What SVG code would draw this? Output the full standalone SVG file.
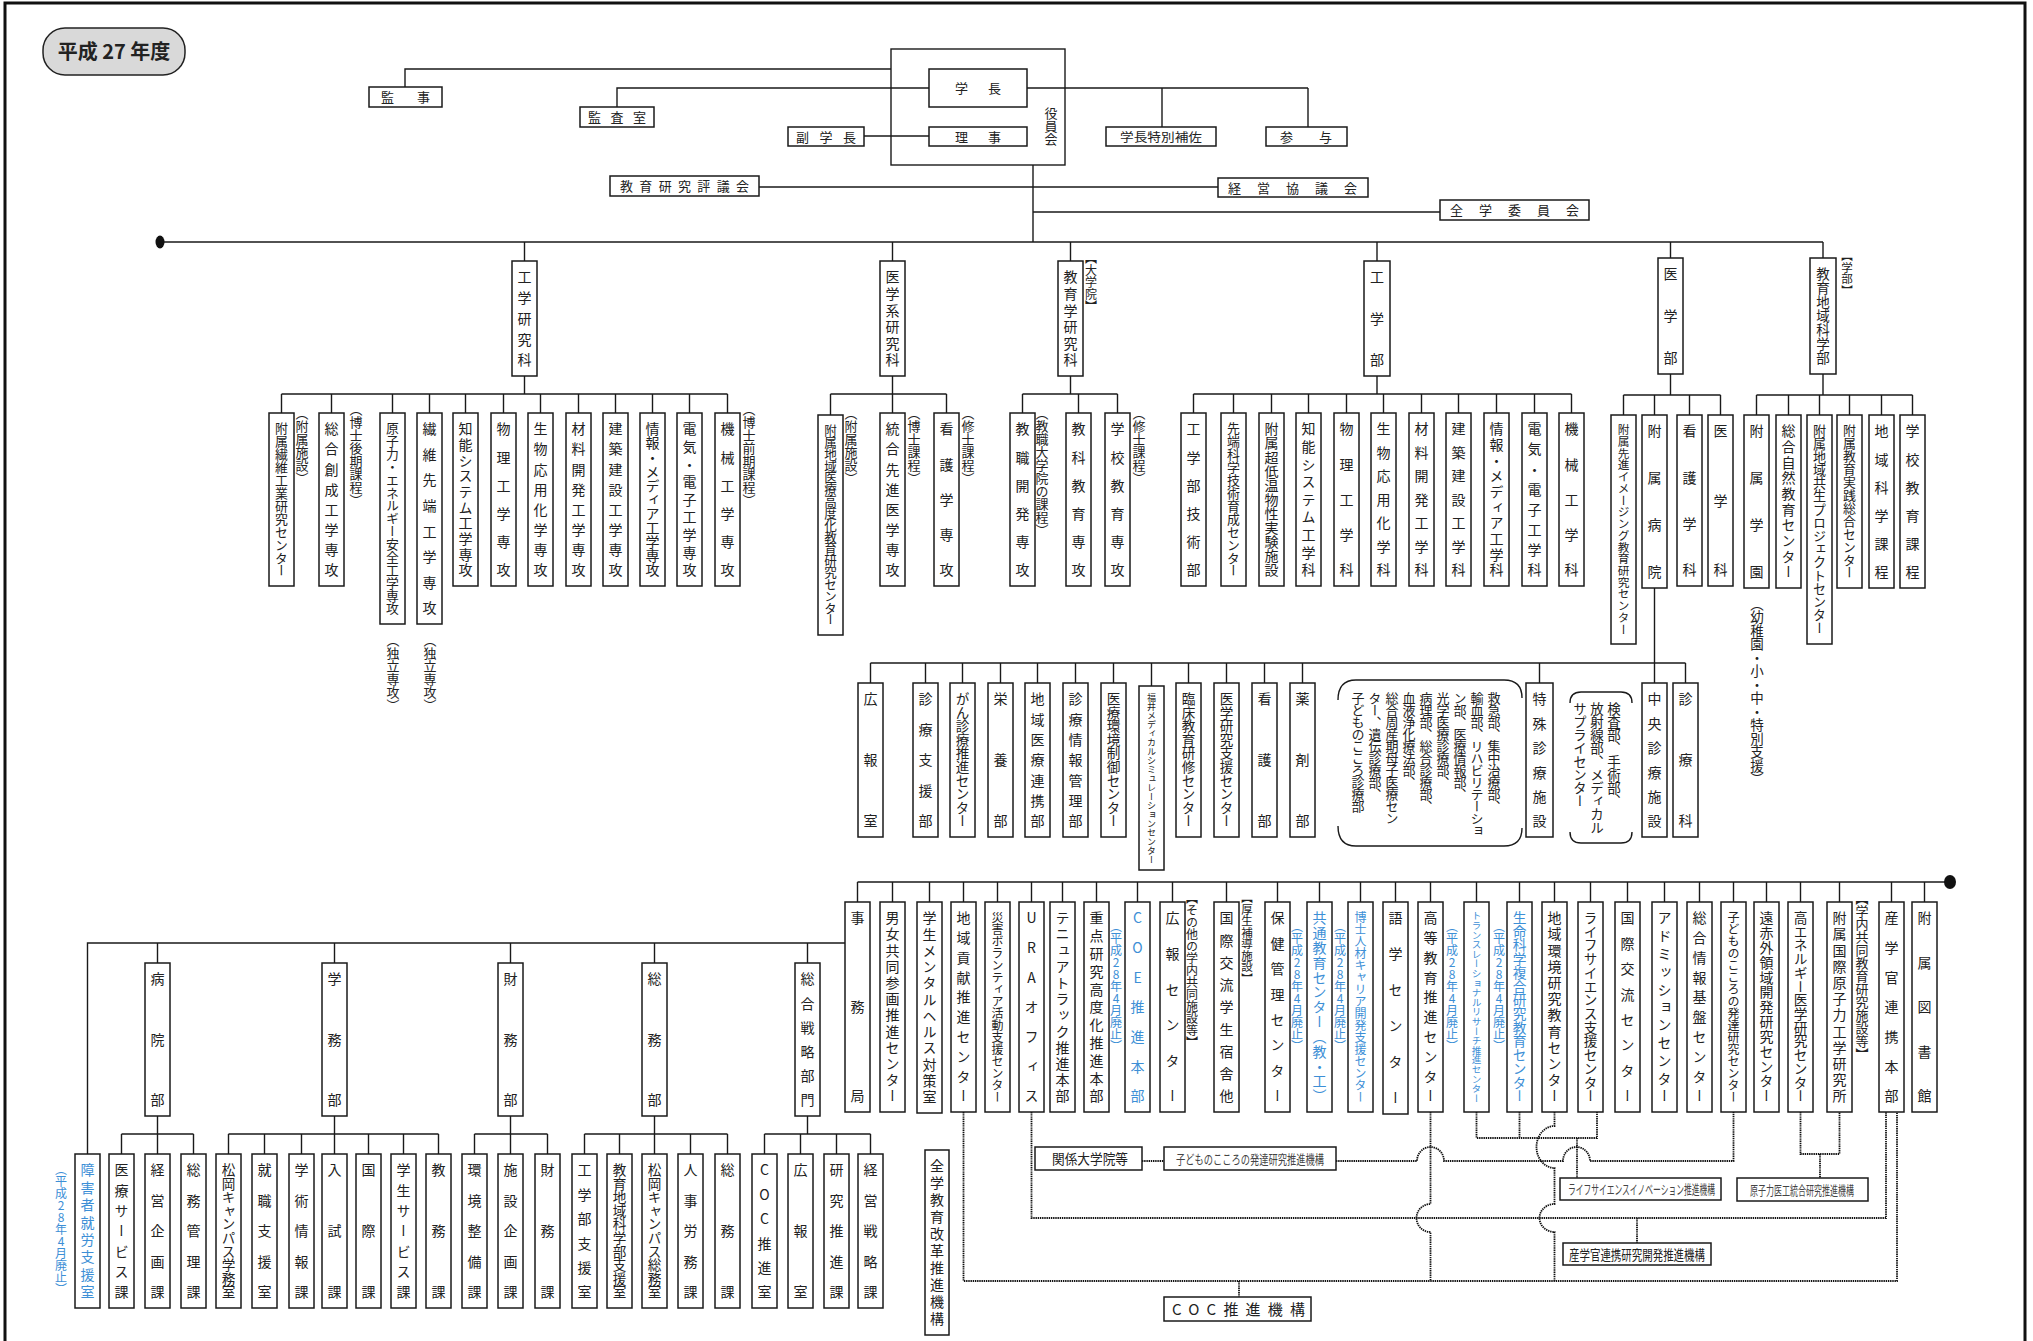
<svg xmlns="http://www.w3.org/2000/svg" width="2033" height="1341" viewBox="0 0 2033 1341">
<style>
.b{fill:#fff;stroke:#1a1a1a;stroke-width:1.5}
.c{fill:none;stroke:#1a1a1a;stroke-width:1.4}
.d{fill:none;stroke:#111;stroke-width:1.8;stroke-dasharray:1.4 0.8}
.k{fill:none;stroke:#1a1a1a;stroke-width:1.4}
text{font-family:"Noto Sans CJK JP","Noto Sans CJK SC",sans-serif;fill:#222}
.v{writing-mode:vertical-rl;font-size:14px}
.u{text-orientation:upright}
.bl{fill:#3d8fd6}
.h{font-size:13px}
.g{fill:#444}
.a{writing-mode:vertical-rl;font-size:13px}
.t{writing-mode:vertical-rl;font-size:13px;letter-spacing:-1px}
</style>
<rect x="0" y="0" width="2033" height="1341" fill="#fff"/>
<rect x="5" y="3" width="2020" height="1400" fill="none" stroke="#111" stroke-width="3"/>

<g id="connectors">
<path class="c" d="M405,87V69H891M617,107V88H929M864,136H929M1027,88H1308M1162,88V127M1308,88V127M1033,165V242M759,187H1218M1033,212H1440M160,242H1823"/>
<ellipse cx="160" cy="242" rx="4.5" ry="6.5" fill="#111"/>
<path class="c" d="M524.5,242V261M892.5,242V261M1070.5,242V261M1377,242V261M1670.5,242V258M1823,242V258"/>
<path class="c" d="M524.5,376V394M281.5,394H727.5M281.5,394V413M331.5,394V413M392.5,394V413M429.5,394V413M465.5,394V413M503.5,394V413M540.5,394V413M578.5,394V413M615.5,394V413M652.5,394V413M689.5,394V413M727.5,394V413"/>
<path class="c" d="M892.5,376V394M830.5,394H946.5M830.5,394V415M892.5,394V413M946.5,394V413"/>
<path class="c" d="M1070.5,376V394M1022.5,394H1117.5M1022.5,394V413M1078.5,394V413M1117.5,394V413"/>
<path class="c" d="M1377,376V394M1193.5,394H1571.5M1193.5,394V413M1233.5,394V413M1271.5,394V413M1308.5,394V413M1346.5,394V413M1383.5,394V413M1421.5,394V413M1458.5,394V413M1496.5,394V413M1534.5,394V413M1571.5,394V413"/>
<path class="c" d="M1670.5,374V395M1623.5,395H1720.5M1623.5,395V415M1654.5,395V415M1689.5,395V415M1720.5,395V415"/>
<path class="c" d="M1823,374V395M1756.5,395H1912.5M1756.5,395V415M1788.5,395V415M1819.5,395V415M1849.5,395V415M1881.5,395V415M1912.5,395V415"/>
<path class="c" d="M1654.5,588V663M870.5,663H1685.5M870.5,663V683M925.5,663V683M962.5,663V683M1000.5,663V683M1037.5,663V683M1075.5,663V683M1113.5,663V683M1151.5,663V686M1188.5,663V683M1226.5,663V683M1264.5,663V683M1302.5,663V683M1539.5,663V683M1654.5,663V683M1685.5,663V683"/>
<path class="c" d="M857.5,882H1950M857.5,882V902M892.5,882V902M929.5,882V902M963.5,882V902M997.5,882V902M1031.5,882V902M1062.5,882V902M1096.5,882V902M1137.5,882V902M1172.5,882V902M1226.5,882V902M1277.5,882V902M1319.5,882V902M1360.5,882V902M1395.5,882V902M1430.5,882V902M1476.5,882V902M1519.5,882V902M1554.5,882V902M1590.5,882V902M1627.5,882V902M1664.5,882V902M1699.5,882V902M1733.5,882V902M1766.5,882V902M1800.5,882V902M1839.5,882V902M1891.5,882V902M1924.5,882V902"/>
<ellipse cx="1950" cy="882" rx="6" ry="7" fill="#111"/>
<path class="c" d="M87.5,1154V943H845M157.5,943V963M334.5,943V963M510.5,943V963M654.5,943V963M807.5,943V963"/>
<path class="c" d="M157.5,1116V1134M121.5,1134H193.5M121.5,1134V1154M157.5,1134V1154M193.5,1134V1154"/>
<path class="c" d="M334.5,1116V1134M228.5,1134H438.5M228.5,1134V1154M264.5,1134V1154M301.5,1134V1154M334.5,1134V1154M368.5,1134V1154M403.5,1134V1154M438.5,1134V1154"/>
<path class="c" d="M510.5,1116V1134M474.5,1134H547.5M474.5,1134V1154M510.5,1134V1154M547.5,1134V1154"/>
<path class="c" d="M654.5,1116V1134M584.5,1134H727.5M584.5,1134V1154M619.5,1134V1154M654.5,1134V1154M690.5,1134V1154M727.5,1134V1154"/>
<path class="c" d="M807.5,1116V1134M764.5,1134H870.5M764.5,1134V1154M800.5,1134V1154M836.5,1134V1154M870.5,1134V1154"/>
<path class="d" d="M963.5,1112V1281H1897V1112M1239,1281V1297"/>
<path class="d" d="M1031.5,1112V1218H1886V1112M1637,1218V1243"/>
<path class="d" d="M1142,1161H1164M1336,1161H1417A13.5,14 0 0 1 1444,1161H1563A13.5,14 0 0 1 1590,1161H1733.5V1112"/>
<path class="d" d="M1430.5,1112V1204A14,14 0 0 0 1430.5,1232V1281"/>
<path class="d" d="M1554.5,1112V1126A18,21 0 0 0 1554.5,1168V1204A15,14 0 0 0 1554.5,1232V1281"/>
<path class="d" d="M1476.5,1112V1138H1597V1112M1519.5,1112V1138M1577,1138V1178"/>
<path class="d" d="M1800.5,1112V1154H1839.5V1112M1820,1154V1178"/>
</g>

<g id="badge"><rect x="43" y="28" width="142" height="47" rx="22" fill="#d9d9d9" stroke="#222" stroke-width="1.5"/><text x="114" y="59" style="font-size:20px;font-weight:700;text-anchor:middle">平成 27 年度</text></g>
<g id="yakuinkai"><rect class="k" x="891" y="49" width="174" height="116"/><text class="v" x="1051" y="107" style="font-size:13px">役員会</text></g>
<g id="gakucho"><rect class="b" x="929" y="69" width="98" height="38"/><text class="h" x="955" y="93" textLength="46" lengthAdjust="spacing">学長</text></g>
<g id="riji"><rect class="b" x="929" y="127" width="98" height="19"/><text class="h" x="955" y="142" textLength="46" lengthAdjust="spacing">理事</text></g>
<g id="fukugakucho"><rect class="b" x="788" y="127" width="76" height="19"/><text class="h" x="796" y="142" textLength="60" lengthAdjust="spacing">副学長</text></g>
<g id="kanji"><rect class="b" x="369" y="87" width="73" height="20"/><text class="h" x="381" y="102" textLength="49" lengthAdjust="spacing">監事</text></g>
<g id="kansashitsu"><rect class="b" x="580" y="107" width="74" height="20"/><text class="h" x="588" y="122" textLength="58" lengthAdjust="spacing">監査室</text></g>
<g id="tokubetsuhosa"><rect class="b" x="1106" y="127" width="110" height="19"/><text x="1120" y="141.5" style="font-size:12.5px" textLength="82" lengthAdjust="spacingAndGlyphs">学長特別補佐</text></g>
<g id="sanyo"><rect class="b" x="1266" y="127" width="81" height="19"/><text class="h" x="1280" y="142" textLength="52" lengthAdjust="spacing">参与</text></g>
<g id="kyoikukenkyu-hyogikai"><rect class="b" x="610" y="176" width="149" height="20"/><text class="h" x="620" y="191" textLength="129" lengthAdjust="spacing">教育研究評議会</text></g>
<g id="keiei-kyogikai"><rect class="b" x="1218" y="178" width="150" height="19"/><text class="h" x="1228" y="192.5" textLength="129" lengthAdjust="spacing">経営協議会</text></g>
<g id="zengaku-iinkai"><rect class="b" x="1440" y="200" width="149" height="20"/><text class="h" x="1450" y="215" textLength="129" lengthAdjust="spacing">全学委員会</text></g>

<g id="kogaku-kenkyuka"><rect class="b" x="512" y="261" width="25" height="115"/><text class="v" x="524.5" y="270" textLength="97" lengthAdjust="spacing">工学研究科</text></g>
<g id="igakukei-kenkyuka"><rect class="b" x="880" y="261" width="25" height="115"/><text class="v" x="892.5" y="270" textLength="97" lengthAdjust="spacing">医学系研究科</text></g>
<g id="kyoikugaku-kenkyuka"><rect class="b" x="1058" y="261" width="25" height="115"/><text class="v" x="1070.5" y="270" textLength="97" lengthAdjust="spacing">教育学研究科</text><text class="a" x="1091" y="252" style="font-size:12px">【大学院】</text></g>
<g id="kogakubu"><rect class="b" x="1364" y="261" width="26" height="115"/><text class="v" x="1377" y="270" textLength="97" lengthAdjust="spacing">工学部</text></g>
<g id="igakubu"><rect class="b" x="1658" y="258" width="25" height="116"/><text class="v" x="1670.5" y="267" textLength="98" lengthAdjust="spacing">医学部</text></g>
<g id="kyoiku-chiiki"><rect class="b" x="1810" y="258" width="26" height="116"/><text class="v" x="1823" y="267" style="font-size:13.5px" textLength="98" lengthAdjust="spacing">教育地域科学部</text><text class="a" x="1847" y="250" style="font-size:11.5px">【学部】</text></g>

<g id="k1"><rect class="b" x="269" y="413" width="25" height="173"/><text class="v" x="281.5" y="422" style="font-size:12.9px" textLength="155" lengthAdjust="spacing">附属繊維工業研究センター</text><text class="a" x="302" y="407">（附属施設）</text></g>
<g id="k2"><rect class="b" x="319" y="413" width="25" height="173"/><text class="v" x="331.5" y="422" textLength="155" lengthAdjust="spacing">総合創成工学専攻</text><text class="a" x="356" y="403">（博士後期課程）</text></g>
<g id="k3"><rect class="b" x="380" y="413" width="25" height="211"/><text class="v" x="392.5" y="422" style="font-size:12.8px" textLength="193" lengthAdjust="spacing">原子力・エネルギー安全工学専攻</text><text class="a" x="393" y="634">（独立専攻）</text></g>
<g id="k4"><rect class="b" x="417" y="413" width="25" height="211"/><text class="v" x="429.5" y="422" textLength="193" lengthAdjust="spacing">繊維先端工学専攻</text><text class="a" x="430" y="634">（独立専攻）</text></g>
<g id="k5"><rect class="b" x="453" y="413" width="25" height="173"/><text class="v" x="465.5" y="422" textLength="155" lengthAdjust="spacing">知能システム工学専攻</text></g>
<g id="k6"><rect class="b" x="491" y="413" width="25" height="173"/><text class="v" x="503.5" y="422" textLength="155" lengthAdjust="spacing">物理工学専攻</text></g>
<g id="k7"><rect class="b" x="528" y="413" width="25" height="173"/><text class="v" x="540.5" y="422" textLength="155" lengthAdjust="spacing">生物応用化学専攻</text></g>
<g id="k8"><rect class="b" x="566" y="413" width="25" height="173"/><text class="v" x="578.5" y="422" textLength="155" lengthAdjust="spacing">材料開発工学専攻</text></g>
<g id="k9"><rect class="b" x="603" y="413" width="25" height="173"/><text class="v" x="615.5" y="422" textLength="155" lengthAdjust="spacing">建築建設工学専攻</text></g>
<g id="k10"><rect class="b" x="640" y="413" width="25" height="173"/><text class="v" x="652.5" y="422" textLength="155" lengthAdjust="spacing">情報・メディア工学専攻</text></g>
<g id="k11"><rect class="b" x="677" y="413" width="25" height="173"/><text class="v" x="689.5" y="422" textLength="155" lengthAdjust="spacing">電気・電子工学専攻</text></g>
<g id="k12"><rect class="b" x="715" y="413" width="25" height="173"/><text class="v" x="727.5" y="422" textLength="155" lengthAdjust="spacing">機械工学専攻</text><text class="a" x="749" y="403">（博士前期課程）</text></g>

<g id="m1"><rect class="b" x="818" y="415" width="25" height="220"/><text class="v" x="830.5" y="424" style="font-size:12.6px" textLength="202" lengthAdjust="spacing">附属地域医療高度化教育研究センター</text><text class="a" x="851" y="407">（附属施設）</text></g>
<g id="m2"><rect class="b" x="880" y="413" width="25" height="173"/><text class="v" x="892.5" y="422" textLength="155" lengthAdjust="spacing">統合先進医学専攻</text><text class="a" x="914" y="407">（博士課程）</text></g>
<g id="m3"><rect class="b" x="934" y="413" width="25" height="173"/><text class="v" x="946.5" y="422" textLength="155" lengthAdjust="spacing">看護学専攻</text><text class="a" x="968" y="407">（修士課程）</text></g>

<g id="e1"><rect class="b" x="1010" y="413" width="25" height="173"/><text class="v" x="1022.5" y="422" textLength="155" lengthAdjust="spacing">教職開発専攻</text><text class="a" x="1042" y="407">（教職大学院の課程）</text></g>
<g id="e2"><rect class="b" x="1066" y="413" width="25" height="173"/><text class="v" x="1078.5" y="422" textLength="155" lengthAdjust="spacing">教科教育専攻</text></g>
<g id="e3"><rect class="b" x="1105" y="413" width="25" height="173"/><text class="v" x="1117.5" y="422" textLength="155" lengthAdjust="spacing">学校教育専攻</text><text class="a" x="1139" y="407">（修士課程）</text></g>

<g id="f1"><rect class="b" x="1181" y="413" width="25" height="173"/><text class="v" x="1193.5" y="422" textLength="155" lengthAdjust="spacing">工学部技術部</text></g>
<g id="f2"><rect class="b" x="1221" y="413" width="25" height="173"/><text class="v" x="1233.5" y="422" style="font-size:12.9px" textLength="155" lengthAdjust="spacing">先端科学技術育成センター</text></g>
<g id="f3"><rect class="b" x="1259" y="413" width="25" height="173"/><text class="v" x="1271.5" y="422" textLength="155" lengthAdjust="spacing">附属超低温物性実験施設</text></g>
<g id="f4"><rect class="b" x="1296" y="413" width="25" height="173"/><text class="v" x="1308.5" y="422" textLength="155" lengthAdjust="spacing">知能システム工学科</text></g>
<g id="f5"><rect class="b" x="1334" y="413" width="25" height="173"/><text class="v" x="1346.5" y="422" textLength="155" lengthAdjust="spacing">物理工学科</text></g>
<g id="f6"><rect class="b" x="1371" y="413" width="25" height="173"/><text class="v" x="1383.5" y="422" textLength="155" lengthAdjust="spacing">生物応用化学科</text></g>
<g id="f7"><rect class="b" x="1409" y="413" width="25" height="173"/><text class="v" x="1421.5" y="422" textLength="155" lengthAdjust="spacing">材料開発工学科</text></g>
<g id="f8"><rect class="b" x="1446" y="413" width="25" height="173"/><text class="v" x="1458.5" y="422" textLength="155" lengthAdjust="spacing">建築建設工学科</text></g>
<g id="f9"><rect class="b" x="1484" y="413" width="25" height="173"/><text class="v" x="1496.5" y="422" textLength="155" lengthAdjust="spacing">情報・メディア工学科</text></g>
<g id="f10"><rect class="b" x="1522" y="413" width="25" height="173"/><text class="v" x="1534.5" y="422" textLength="155" lengthAdjust="spacing">電気・電子工学科</text></g>
<g id="f11"><rect class="b" x="1559" y="413" width="25" height="173"/><text class="v" x="1571.5" y="422" textLength="155" lengthAdjust="spacing">機械工学科</text></g>

<g id="i1"><rect class="b" x="1611" y="415" width="25" height="229"/><text class="v" x="1623.5" y="424" style="font-size:11.7px" textLength="211" lengthAdjust="spacing">附属先進イメージング教育研究センター</text></g>
<g id="fuzoku-byoin"><rect class="b" x="1642" y="415" width="25" height="173"/><text class="v" x="1654.5" y="424" textLength="155" lengthAdjust="spacing">附属病院</text></g>
<g id="i3"><rect class="b" x="1677" y="415" width="25" height="171"/><text class="v" x="1689.5" y="424" textLength="153" lengthAdjust="spacing">看護学科</text></g>
<g id="i4"><rect class="b" x="1708" y="415" width="25" height="171"/><text class="v" x="1720.5" y="424" textLength="153" lengthAdjust="spacing">医学科</text></g>

<g id="c1"><rect class="b" x="1744" y="415" width="25" height="173"/><text class="v" x="1756.5" y="424" textLength="155" lengthAdjust="spacing">附属学園</text><text class="a" x="1757" y="597" style="font-size:13.5px">（幼稚園・小・中・特別支援）</text></g>
<g id="c2"><rect class="b" x="1776" y="415" width="25" height="173"/><text class="v" x="1788.5" y="424" textLength="155" lengthAdjust="spacing">総合自然教育センター</text></g>
<g id="c3"><rect class="b" x="1807" y="415" width="25" height="229"/><text class="v" x="1819.5" y="424" style="font-size:13.1px" textLength="211" lengthAdjust="spacing">附属地域共生プロジェクトセンター</text></g>
<g id="c4"><rect class="b" x="1837" y="415" width="25" height="173"/><text class="v" x="1849.5" y="424" style="font-size:12.9px" textLength="155" lengthAdjust="spacing">附属教育実践総合センター</text></g>
<g id="c5"><rect class="b" x="1869" y="415" width="25" height="173"/><text class="v" x="1881.5" y="424" textLength="155" lengthAdjust="spacing">地域科学課程</text></g>
<g id="c6"><rect class="b" x="1900" y="415" width="25" height="173"/><text class="v" x="1912.5" y="424" textLength="155" lengthAdjust="spacing">学校教育課程</text></g>

<g id="h1"><rect class="b" x="858" y="683" width="25" height="154"/><text class="v" x="870.5" y="692" textLength="136" lengthAdjust="spacing">広報室</text></g>
<g id="h2"><rect class="b" x="913" y="683" width="25" height="154"/><text class="v" x="925.5" y="692" textLength="136" lengthAdjust="spacing">診療支援部</text></g>
<g id="h3"><rect class="b" x="950" y="683" width="25" height="154"/><text class="v" x="962.5" y="692" style="font-size:13.6px" textLength="136" lengthAdjust="spacing">がん診療推進センター</text></g>
<g id="h4"><rect class="b" x="988" y="683" width="25" height="154"/><text class="v" x="1000.5" y="692" textLength="136" lengthAdjust="spacing">栄養部</text></g>
<g id="h5"><rect class="b" x="1025" y="683" width="25" height="154"/><text class="v" x="1037.5" y="692" textLength="136" lengthAdjust="spacing">地域医療連携部</text></g>
<g id="h6"><rect class="b" x="1063" y="683" width="25" height="154"/><text class="v" x="1075.5" y="692" textLength="136" lengthAdjust="spacing">診療情報管理部</text></g>
<g id="h7"><rect class="b" x="1101" y="683" width="25" height="154"/><text class="v" x="1113.5" y="692" style="font-size:13.6px" textLength="136" lengthAdjust="spacing">医療環境制御センター</text></g>
<g id="h8"><rect class="b" x="1139" y="686" width="25" height="184"/><text class="v" x="1151.5" y="693" style="font-size:9px" textLength="171" lengthAdjust="spacing">福井メディカルシミュレーションセンター</text></g>
<g id="h9"><rect class="b" x="1176" y="683" width="25" height="154"/><text class="v" x="1188.5" y="692" style="font-size:13.6px" textLength="136" lengthAdjust="spacing">臨床教育研修センター</text></g>
<g id="h10"><rect class="b" x="1214" y="683" width="25" height="154"/><text class="v" x="1226.5" y="692" style="font-size:13.6px" textLength="136" lengthAdjust="spacing">医学研究支援センター</text></g>
<g id="h11"><rect class="b" x="1252" y="683" width="25" height="154"/><text class="v" x="1264.5" y="692" textLength="136" lengthAdjust="spacing">看護部</text></g>
<g id="h12"><rect class="b" x="1290" y="683" width="25" height="154"/><text class="v" x="1302.5" y="692" textLength="136" lengthAdjust="spacing">薬剤部</text></g>
<g id="tokushu-group"><path class="k" d="M1338,700Q1338,680 1356,680H1504Q1522,680 1522,698M1338,826Q1338,846 1356,846H1504Q1522,846 1522,828"/>
<text class="t" x="1494" y="692">救急部、集中治療部、</text>
<text class="t" x="1477" y="692">輸血部、リハビリテーショ</text>
<text class="t" x="1460" y="692">ン部、医療情報部、</text>
<text class="t" x="1443" y="692">光学医療診療部、</text>
<text class="t" x="1426" y="692">病理部、総合診療部、</text>
<text class="t" x="1409" y="692">血液浄化療法部、</text>
<text class="t" x="1392" y="692">総合周産期母子医療セン</text>
<text class="t" x="1375" y="692">ター、遺伝診療部、</text>
<text class="t" x="1358" y="692">子どものこころ診療部</text></g>
<g id="h13"><rect class="b" x="1526" y="683" width="27" height="154"/><text class="v" x="1539.5" y="692" textLength="136" lengthAdjust="spacing">特殊診療施設</text></g>
<g id="chuo-group"><path class="k" d="M1570,703Q1570,692 1581,692H1621Q1632,692 1632,703M1570,832Q1570,843 1581,843H1621Q1632,843 1632,832"/>
<text class="v" x="1614" y="702" style="font-size:13.5px;letter-spacing:-0.3px">検査部、手術部、</text>
<text class="v" x="1597" y="702" style="font-size:13.5px;letter-spacing:-0.3px">放射線部、メディカル</text>
<text class="v" x="1580" y="702" style="font-size:13.5px;letter-spacing:-0.3px">サプライセンター</text></g>
<g id="h14"><rect class="b" x="1642" y="683" width="25" height="154"/><text class="v" x="1654.5" y="692" textLength="136" lengthAdjust="spacing">中央診療施設</text></g>
<g id="h15"><rect class="b" x="1673" y="683" width="25" height="154"/><text class="v" x="1685.5" y="692" textLength="136" lengthAdjust="spacing">診療科</text></g>

<g id="jimukyoku"><rect class="b" x="845" y="902" width="25" height="210"/><text class="v" x="857.5" y="911" textLength="192" lengthAdjust="spacing">事務局</text></g>
<g id="l2"><rect class="b" x="880" y="902" width="25" height="210"/><text class="v" x="892.5" y="911" textLength="192" lengthAdjust="spacing">男女共同参画推進センター</text></g>
<g id="l3"><rect class="b" x="917" y="902" width="25" height="211"/><text class="v" x="929.5" y="911" textLength="193" lengthAdjust="spacing">学生メンタルヘルス対策室</text></g>
<g id="l4"><rect class="b" x="951" y="902" width="25" height="210"/><text class="v" x="963.5" y="911" textLength="192" lengthAdjust="spacing">地域貢献推進センター</text></g>
<g id="l5"><rect class="b" x="985" y="902" width="25" height="210"/><text class="v" x="997.5" y="911" style="font-size:12px" textLength="192" lengthAdjust="spacing">災害ボランティア活動支援センター</text></g>
<g id="l6"><rect class="b" x="1019" y="902" width="25" height="210"/><text class="v u" x="1031.5" y="911" textLength="192" lengthAdjust="spacing">URAオフィス</text></g>
<g id="l7"><rect class="b" x="1050" y="902" width="25" height="210"/><text class="v" x="1062.5" y="911" textLength="192" lengthAdjust="spacing">テニュアトラック推進本部</text></g>
<g id="l8"><rect class="b" x="1084" y="902" width="25" height="210"/><text class="v" x="1096.5" y="911" textLength="192" lengthAdjust="spacing">重点研究高度化推進本部</text><text class="a u bl" x="1116" y="920" style="font-size:12px">（平成28年4月廃止）</text></g>
<g id="l9"><rect class="b" x="1125" y="902" width="25" height="210"/><text class="v u bl" x="1137.5" y="911" textLength="192" lengthAdjust="spacing">COE推進本部</text></g>
<g id="l10"><rect class="b" x="1160" y="902" width="25" height="210"/><text class="v" x="1172.5" y="911" textLength="192" lengthAdjust="spacing">広報センター</text><text class="a" x="1192" y="892" style="font-size:12px">【その他の学内共同施設等】</text></g>
<g id="l11"><rect class="b" x="1214" y="902" width="25" height="210"/><text class="v" x="1226.5" y="911" textLength="192" lengthAdjust="spacing">国際交流学生宿舎他</text><text class="a" x="1247" y="892" style="font-size:11.5px">【厚生補導施設】</text></g>
<g id="l12"><rect class="b" x="1265" y="902" width="25" height="210"/><text class="v" x="1277.5" y="911" textLength="192" lengthAdjust="spacing">保健管理センター</text><text class="a u bl" x="1297" y="920" style="font-size:12px">（平成28年4月廃止）</text></g>
<g id="l13"><rect class="b" x="1307" y="902" width="25" height="210"/><text class="v bl" x="1319.5" y="911" textLength="192" lengthAdjust="spacing">共通教育センター（教・工）</text><text class="a u bl" x="1340" y="920" style="font-size:12px">（平成28年4月廃止）</text></g>
<g id="l14"><rect class="b" x="1348" y="902" width="25" height="210"/><text class="v bl" x="1360.5" y="911" style="font-size:12px" textLength="192" lengthAdjust="spacing">博士人材キャリア開発支援センター</text></g>
<g id="l15"><rect class="b" x="1383" y="902" width="25" height="212"/><text class="v" x="1395.5" y="911" textLength="194" lengthAdjust="spacing">語学センター</text></g>
<g id="l16"><rect class="b" x="1418" y="902" width="25" height="210"/><text class="v" x="1430.5" y="911" textLength="192" lengthAdjust="spacing">高等教育推進センター</text><text class="a u bl" x="1452" y="920" style="font-size:12px">（平成28年4月廃止）</text></g>
<g id="l17"><rect class="b" x="1464" y="902" width="25" height="210"/><text class="v bl" x="1476.5" y="911" style="font-size:9.6px" textLength="192" lengthAdjust="spacing">トランスレーショナルリサーチ推進センター</text><text class="a u bl" x="1499" y="920" style="font-size:12px">（平成28年4月廃止）</text></g>
<g id="l18"><rect class="b" x="1507" y="902" width="25" height="210"/><text class="v bl" x="1519.5" y="911" style="font-size:13.7px" textLength="192" lengthAdjust="spacing">生命科学複合研究教育センター</text></g>
<g id="l19"><rect class="b" x="1542" y="902" width="25" height="210"/><text class="v" x="1554.5" y="911" textLength="192" lengthAdjust="spacing">地域環境研究教育センター</text></g>
<g id="l20"><rect class="b" x="1578" y="902" width="25" height="210"/><text class="v" x="1590.5" y="911" style="font-size:13.7px" textLength="192" lengthAdjust="spacing">ライフサイエンス支援センター</text></g>
<g id="l21"><rect class="b" x="1615" y="902" width="25" height="210"/><text class="v" x="1627.5" y="911" textLength="192" lengthAdjust="spacing">国際交流センター</text></g>
<g id="l22"><rect class="b" x="1652" y="902" width="25" height="210"/><text class="v" x="1664.5" y="911" textLength="192" lengthAdjust="spacing">アドミッションセンター</text></g>
<g id="l23"><rect class="b" x="1687" y="902" width="25" height="210"/><text class="v" x="1699.5" y="911" textLength="192" lengthAdjust="spacing">総合情報基盤センター</text></g>
<g id="l24"><rect class="b" x="1721" y="902" width="25" height="210"/><text class="v" x="1733.5" y="911" style="font-size:12px" textLength="192" lengthAdjust="spacing">子どものこころの発達研究センター</text></g>
<g id="l25"><rect class="b" x="1754" y="902" width="25" height="210"/><text class="v" x="1766.5" y="911" textLength="192" lengthAdjust="spacing">遠赤外領域開発研究センター</text></g>
<g id="l26"><rect class="b" x="1788" y="902" width="25" height="210"/><text class="v" x="1800.5" y="911" style="font-size:13.7px" textLength="192" lengthAdjust="spacing">高エネルギー医学研究センター</text></g>
<g id="l27"><rect class="b" x="1827" y="902" width="25" height="210"/><text class="v" x="1839.5" y="911" textLength="192" lengthAdjust="spacing">附属国際原子力工学研究所</text><text class="a" x="1862" y="892">【学内共同教育研究施設等】</text></g>
<g id="l28"><rect class="b" x="1879" y="902" width="25" height="210"/><text class="v" x="1891.5" y="911" textLength="192" lengthAdjust="spacing">産学官連携本部</text></g>
<g id="l29"><rect class="b" x="1912" y="902" width="25" height="210"/><text class="v" x="1924.5" y="911" textLength="192" lengthAdjust="spacing">附属図書館</text></g>

<g id="kankei"><rect class="b" x="1035" y="1147" width="107" height="23"/><text x="1052" y="1164" style="font-size:14px" textLength="76" lengthAdjust="spacingAndGlyphs">関係大学院等</text></g>
<g id="kodomo-kiko"><rect class="b" x="1164" y="1147" width="172" height="23"/><text class="g" x="1176" y="1164" style="font-size:13px" textLength="148" lengthAdjust="spacingAndGlyphs">子どものこころの発達研究推進機構</text></g>
<g id="life-kiko"><rect class="b" x="1560" y="1178" width="161" height="22"/><text class="g" x="1568" y="1194" style="font-size:13px" textLength="147" lengthAdjust="spacingAndGlyphs">ライフサイエンスイノベーション推進機構</text></g>
<g id="genshiryoku-kiko"><rect class="b" x="1737" y="1178" width="131" height="23"/><text class="g" x="1750" y="1194.5" style="font-size:13px" textLength="104" lengthAdjust="spacingAndGlyphs">原子力医工統合研究推進機構</text></g>
<g id="sangakukan-kiko"><rect class="b" x="1563" y="1243" width="148" height="22"/><text x="1569" y="1259.5" style="font-size:14px" textLength="136" lengthAdjust="spacingAndGlyphs">産学官連携研究開発推進機構</text></g>
<g id="coc-kiko"><rect class="b" x="1164" y="1297" width="147" height="24"/><text x="1172" y="1315" style="font-size:15px" textLength="133" lengthAdjust="spacing">COC推進機構</text></g>
<g id="zengaku-kaikaku"><rect class="b" x="925" y="1150" width="24" height="185"/><text class="v" x="937" y="1159" textLength="167" lengthAdjust="spacing">全学教育改革推進機構</text></g>

<g id="shogaisha"><rect class="b" x="75" y="1154" width="25" height="154"/><text class="v bl" x="87.5" y="1163" textLength="136" lengthAdjust="spacing">障害者就労支援室</text><text class="a u bl" x="61" y="1163" style="font-size:12px">（平成28年4月廃止）</text></g>
<g id="byoinbu"><rect class="b" x="145" y="963" width="25" height="153"/><text class="v" x="157.5" y="972" textLength="135" lengthAdjust="spacing">病院部</text></g>
<g id="gakumubu"><rect class="b" x="322" y="963" width="25" height="153"/><text class="v" x="334.5" y="972" textLength="135" lengthAdjust="spacing">学務部</text></g>
<g id="zaimubu"><rect class="b" x="498" y="963" width="25" height="153"/><text class="v" x="510.5" y="972" textLength="135" lengthAdjust="spacing">財務部</text></g>
<g id="somubu"><rect class="b" x="642" y="963" width="25" height="153"/><text class="v" x="654.5" y="972" textLength="135" lengthAdjust="spacing">総務部</text></g>
<g id="senryaku"><rect class="b" x="795" y="963" width="25" height="153"/><text class="v" x="807.5" y="972" textLength="135" lengthAdjust="spacing">総合戦略部門</text></g>

<g id="a1"><rect class="b" x="109" y="1154" width="25" height="154"/><text class="v" x="121.5" y="1163" textLength="136" lengthAdjust="spacing">医療サービス課</text></g>
<g id="a2"><rect class="b" x="145" y="1154" width="25" height="154"/><text class="v" x="157.5" y="1163" textLength="136" lengthAdjust="spacing">経営企画課</text></g>
<g id="a3"><rect class="b" x="181" y="1154" width="25" height="154"/><text class="v" x="193.5" y="1163" textLength="136" lengthAdjust="spacing">総務管理課</text></g>
<g id="a4"><rect class="b" x="216" y="1154" width="25" height="154"/><text class="v" x="228.5" y="1163" style="font-size:13.6px" textLength="136" lengthAdjust="spacing">松岡キャンパス学務室</text></g>
<g id="a5"><rect class="b" x="252" y="1154" width="25" height="154"/><text class="v" x="264.5" y="1163" textLength="136" lengthAdjust="spacing">就職支援室</text></g>
<g id="a6"><rect class="b" x="289" y="1154" width="25" height="154"/><text class="v" x="301.5" y="1163" textLength="136" lengthAdjust="spacing">学術情報課</text></g>
<g id="a7"><rect class="b" x="322" y="1154" width="25" height="154"/><text class="v" x="334.5" y="1163" textLength="136" lengthAdjust="spacing">入試課</text></g>
<g id="a8"><rect class="b" x="356" y="1154" width="25" height="154"/><text class="v" x="368.5" y="1163" textLength="136" lengthAdjust="spacing">国際課</text></g>
<g id="a9"><rect class="b" x="391" y="1154" width="25" height="154"/><text class="v" x="403.5" y="1163" textLength="136" lengthAdjust="spacing">学生サービス課</text></g>
<g id="a10"><rect class="b" x="426" y="1154" width="25" height="154"/><text class="v" x="438.5" y="1163" textLength="136" lengthAdjust="spacing">教務課</text></g>
<g id="a11"><rect class="b" x="462" y="1154" width="25" height="154"/><text class="v" x="474.5" y="1163" textLength="136" lengthAdjust="spacing">環境整備課</text></g>
<g id="a12"><rect class="b" x="498" y="1154" width="25" height="154"/><text class="v" x="510.5" y="1163" textLength="136" lengthAdjust="spacing">施設企画課</text></g>
<g id="a13"><rect class="b" x="535" y="1154" width="25" height="154"/><text class="v" x="547.5" y="1163" textLength="136" lengthAdjust="spacing">財務課</text></g>
<g id="a14"><rect class="b" x="572" y="1154" width="25" height="154"/><text class="v" x="584.5" y="1163" textLength="136" lengthAdjust="spacing">工学部支援室</text></g>
<g id="a15"><rect class="b" x="607" y="1154" width="25" height="154"/><text class="v" x="619.5" y="1163" style="font-size:13.6px" textLength="136" lengthAdjust="spacing">教育地域科学部支援室</text></g>
<g id="a16"><rect class="b" x="642" y="1154" width="25" height="154"/><text class="v" x="654.5" y="1163" style="font-size:13.6px" textLength="136" lengthAdjust="spacing">松岡キャンパス総務室</text></g>
<g id="a17"><rect class="b" x="678" y="1154" width="25" height="154"/><text class="v" x="690.5" y="1163" textLength="136" lengthAdjust="spacing">人事労務課</text></g>
<g id="a18"><rect class="b" x="715" y="1154" width="25" height="154"/><text class="v" x="727.5" y="1163" textLength="136" lengthAdjust="spacing">総務課</text></g>
<g id="a19"><rect class="b" x="752" y="1154" width="25" height="154"/><text class="v u" x="764.5" y="1163" textLength="136" lengthAdjust="spacing">COC推進室</text></g>
<g id="a20"><rect class="b" x="788" y="1154" width="25" height="154"/><text class="v" x="800.5" y="1163" textLength="136" lengthAdjust="spacing">広報室</text></g>
<g id="a21"><rect class="b" x="824" y="1154" width="25" height="154"/><text class="v" x="836.5" y="1163" textLength="136" lengthAdjust="spacing">研究推進課</text></g>
<g id="a22"><rect class="b" x="858" y="1154" width="25" height="154"/><text class="v" x="870.5" y="1163" textLength="136" lengthAdjust="spacing">経営戦略課</text></g>
</svg>
